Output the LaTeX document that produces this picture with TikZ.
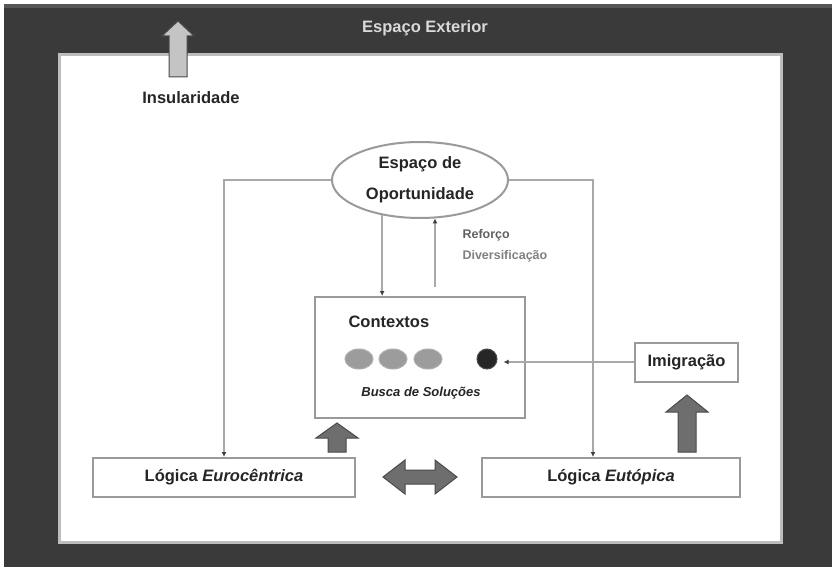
\documentclass[tikz,border=0pt]{standalone}
\usepackage{fontspec}
\setmainfont{Liberation Sans}
\usetikzlibrary{arrows.meta,shapes.geometric}
\definecolor{framedark}{HTML}{3A3A3A}
\definecolor{frametop}{HTML}{575757}
\definecolor{edgegray}{HTML}{BDBDBD}
\definecolor{boxgray}{HTML}{9A9A9A}
\definecolor{linegray}{HTML}{A8A8A8}
\definecolor{tipgray}{HTML}{404040}
\definecolor{txt}{HTML}{252525}
\definecolor{blockgray}{HTML}{6E6E6E}
\definecolor{blockedge}{HTML}{4A4A4A}
\definecolor{lightblock}{HTML}{C4C4C4}
\definecolor{ovalgray}{HTML}{9C9C9C}
\tikzset{
  mainfont/.style={font=\fontsize{16.5}{20}\selectfont\bfseries, text=txt},
  boxnode/.style={draw=boxgray, line width=2pt, fill=white, rectangle, inner sep=0pt, mainfont},
  conn/.style={draw=linegray, line width=2pt, -{Latex[length=5pt,width=5pt,color=tipgray]}},
  blockarrow/.style={fill=blockgray, draw=blockedge, line width=1pt, line join=miter},
  dotoval/.style={ellipse, fill=ovalgray, draw=boxgray!80, line width=1pt, minimum width=28pt, minimum height=20pt, inner sep=0pt},
}
\begin{document}
\begin{tikzpicture}[x=1pt,y=-1pt]
\useasboundingbox (0,0) rectangle (832,569);
\fill[white] (0,0) rectangle (832,569);
% dark frame
\fill[framedark] (4,4) rectangle (832,567);
\fill[frametop] (4,4) rectangle (832,8);
% inner white area
\fill[white, draw=edgegray, line width=3pt] (59.5,54.5) rectangle (781,542);

\node[font=\fontsize{16.5}{20}\selectfont\bfseries, text=white!85!black] (ext) at (425,28) {Espaço Exterior};

% Insularidade arrow
\draw[fill=lightblock, draw=blockedge, line width=1pt] (178,21) -- (194,36) -- (187,36) -- (187,77) -- (169,77) -- (169,36) -- (162,36) -- cycle;
\node[mainfont] (ins) at (191,98) {Insularidade};

% Espaço de Oportunidade
\node[ellipse, draw=boxgray, line width=2pt, fill=white, minimum width=176pt, minimum height=76pt, inner sep=0pt, align=center, font=\fontsize{16.5}{31}\selectfont\bfseries, text=txt] (opp) at (420,180) {Espaço de\\Oportunidade};

\node[anchor=west, align=left, font=\fontsize{12.5}{21}\selectfont\bfseries, text=black!62] (ref) at (459,246) {Reforço\\\textcolor{black!50}{Diversificação}};

% Contextos box
\node[boxnode, minimum width=210pt, minimum height=121pt] (ctx) at (420,357.5) {};
\node[mainfont, anchor=west] (ctxt) at (345,322) {Contextos};
\node[dotoval] (e1) at (359,359) {};
\node[dotoval] (e2) at (393,359) {};
\node[dotoval] (e3) at (428,359) {};
\node[circle, fill=black!85, draw=black!70, line width=1pt, minimum size=20pt, inner sep=0pt] (bc) at (487,359) {};
\node[font=\fontsize{13}{16}\selectfont\bfseries\itshape, text=txt] (busca) at (421,393) {Busca de Soluções};

% Imigração
\node[boxnode, minimum width=103pt, minimum height=39pt] (img) at (686.5,362) {Imigração};

% Lógica boxes
\node[boxnode, minimum width=262pt, minimum height=39pt] (le) at (224,477.5) {Lógica \textit{Eurocêntrica}};
\node[boxnode, minimum width=258pt, minimum height=39pt] (lt) at (611,477.5) {Lógica \textit{Eutópica}};

% connectors
\coordinate (lc) at (opp.west -| 224,0);
\coordinate (rc) at (opp.east -| 593,0);
\draw[conn] (opp.west) -- (lc) -- (le.north);
\draw[conn] (opp.east) -- (rc) -- (rc |- lt.north);
\draw[conn] (opp.223) -- (opp.223 |- ctx.north);
\coordinate (rf) at (435,287);
\draw[conn] (rf) -- (rf |- opp.292);
\draw[conn, shorten >=6pt] (img.west) -- (img.west -| bc.east);

% block arrows
\draw[blockarrow] (337,423) -- (358,438) -- (346,438) -- (346,452) -- (328,452) -- (328,438) -- (316,438) -- cycle;
\draw[blockarrow] (687,395) -- (708,412) -- (696,412) -- (696,452) -- (678,452) -- (678,412) -- (666,412) -- cycle;
\draw[blockarrow] (383,477) -- (405,460) -- (405,470) -- (435,470) -- (435,460) -- (457,477) -- (435,494) -- (435,484) -- (405,484) -- (405,494) -- cycle;
\end{tikzpicture}
\end{document}
